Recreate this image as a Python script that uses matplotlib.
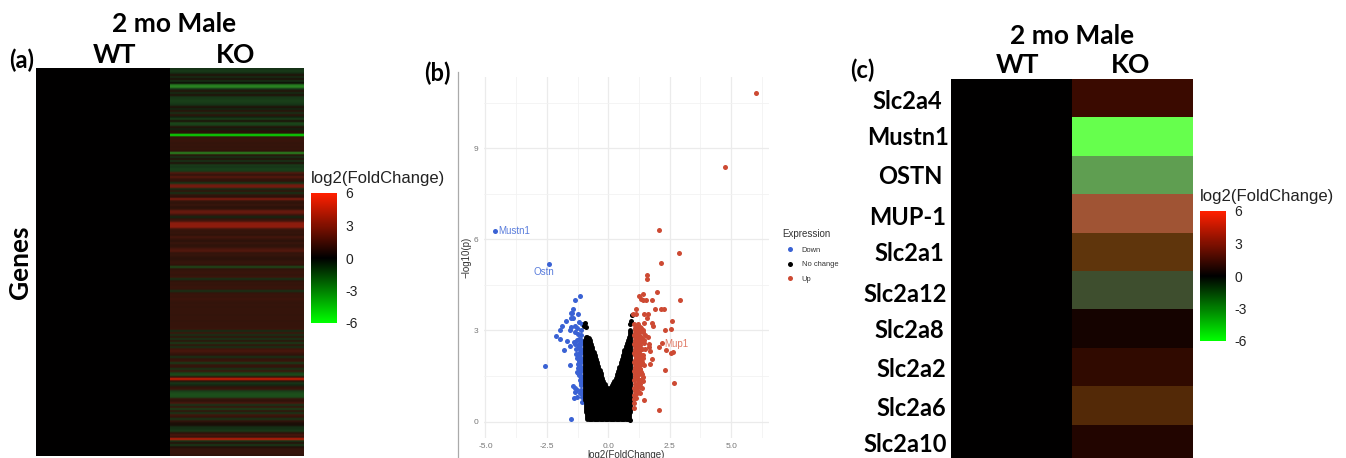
import matplotlib
matplotlib.use("Agg")
import matplotlib.pyplot as plt
import numpy as np
from matplotlib.colors import LinearSegmentedColormap, Normalize
from matplotlib.cm import ScalarMappable
from matplotlib.lines import Line2D

W, H = 1346, 458
TITLE = "2 mo Male"
GROUPS = ["WT", "KO"]
CBAR_TITLE = "log2(FoldChange)"
CBAR_TICKS = [-6, -3, 0, 3, 6]

# Panel (a): log2 fold change per gene row, KO column (WT is all zero)
ko_a = [
    -0.9, -1.1, -0.8, 0.6, -0.8, 0.5, -0.9, 0.05, -2.2, -2.4,
    -0.9, 0.7, -0.8, 0.6, -1.0, -1.1, -1.2, -1.1, -0.9, 0.6,
    -0.7, 0.8, -0.9, 0.9, -0.6, -1.2, 0.5, -1.3, -1.2, 0.7,
    -0.6, 0.7, 0.8, -5.6, 1.0, 1.1, 1.2, 1.0, 1.1, 1.0,
    1.1, 0.9, -2.6, 0.8, -0.9, 0.7, -1.0, 0.6, -1.1, -1.0,
    -1.2, -1.1, 1.8, 1.0, 2.0, 1.1, 0.9, -1.0, 2.7, 2.8,
    -0.8, 1.0, -0.9, 1.0, 0.8, 3.0, 1.1, 0.9, 1.2, 0.8,
    1.0, 2.4, 2.3, 1.2, -0.7, 1.0, 1.5, 3.3, 3.4, 3.4,
    1.4, 1.0, 1.1, 0.9, 1.5, 1.1, 0.8, 1.2, 0.9, 1.0,
    1.6, 1.9, 1.0, 1.1, 0.9, 0.8, 1.0, 1.1, 0.9, -1.4,
    0.9, 1.1, 1.2, 1.0, 1.3, -0.9, 0.9, 1.1, 1.0, 1.2,
    1.1, -0.9, 1.0, 1.2, 1.1, 1.3, 1.1, 1.0, 1.1, 1.0,
    1.1, 1.1, 1.1, 1.0, 1.1, 1.1, 1.0, 1.1, 1.1, 1.1,
    1.2, -0.8, 1.3, -0.9, 1.0, -1.0, 0.9, -1.1, 1.0, -0.9,
    1.3, 1.6, 1.2, 0.9, -0.9, 1.0, 1.2, -1.1, 1.1, 1.0,
    -1.0, 1.3, -1.2, -1.4, 1.0, 5.0, 0.8, -1.0, -0.7, 0.9,
    1.2, -1.1, -1.4, -1.5, -1.4, 1.1, 0.9, 1.6, -1.0, 1.2,
    -1.2, 1.0, -1.0, 1.4, 1.0, -1.0, 1.0, 0.5, 0.4, -0.8,
    -0.9, -1.1, 0.8, 1.6, 1.0, 4.6, -1.0, 0.7, -1.1, 0.6,
    1.0, 1.1, 1.1, 0.9,
]

# Panel (c)
genes_c = ["Slc2a4", "Mustn1", "OSTN", "MUP-1", "Slc2a1", "Slc2a12",
           "Slc2a8", "Slc2a2", "Slc2a6", "Slc2a10"]
ko_c = [1.0, -6.0, -3.2, 3.3, 1.9, -1.4, 0.3, 0.8, 1.6, 0.6]

# Panel (b): volcano
x_ticks = [-5.0, -2.5, 0.0, 2.5, 5.0]
y_ticks = [0, 3, 6, 9]
down_x = [-4.6, -2.4, -1.15, -1.36, -1.44, -1.47, -1.53, -1.22, -1.44, -1.53, -1.71, -1.18,
          -1.87, -1.09, -1.37, -1.52, -1.29, -1.98, -1.56, -1.36, -2.14, -1.95, -1.68, -1.4,
          -1.82, -1.57, -2.58, -1.57, -1.45, -1.38, -1.29, -1.52, -1.34, -1.29,
          -1.1, -1.12, -1.22, -1.12, -1.2, -1.28, -1.1, -1.17, -1.25, -1.35, -1.12, -1.2, -1.3,
          -1.1, -1.18, -1.32, -1.12, -1.2, -1.28, -1.1, -1.17, -1.12, -1.18, -1.24, -1.1, -1.17,
          -1.28, -1.12, -1.2, -1.1, -1.17, -1.12, -1.1, -1.34, -1.1, -1.17, -1.08, -1.08,
          -1.13, -1.2, -1.12, -1.25, -1.13, -1.22, -1.12, -1.2, -1.13, -1.25, -1.12, -1.18]
down_y = [6.27, 5.19, 4.13, 4.0, 3.7, 3.58, 3.56, 3.53, 3.4, 3.4, 3.3, 3.29,
          3.16, 3.22, 3.16, 3.12, 3.08, 3.0, 3.0, 2.96, 2.83, 2.71, 2.65, 2.63,
          2.35, 2.49, 1.82, 1.86, 1.17, 0.77, 0.8, 0.09, 1.1, 1.05,
          3.0, 2.85, 2.87, 2.7, 2.72, 2.68, 2.55, 2.57, 2.53, 2.55, 2.4, 2.42, 2.38,
          2.25, 2.27, 2.23, 2.1, 2.12, 2.08, 1.95, 1.97, 1.8, 1.82, 1.78, 1.65, 1.67,
          1.63, 1.5, 1.52, 1.35, 1.37, 1.2, 1.05, 0.98, 0.95, 0.93, 0.8, 0.65,
          2.62, 2.48, 2.33, 2.18, 2.03, 1.88, 1.73, 1.58, 1.43, 1.6, 1.28, 2.0]
up_x = [6.0, 4.75, 2.05, 2.89, 2.14, 1.57, 1.56, 2.0, 1.41, 1.25, 1.34, 1.53, 1.41, 1.78, 2.93,
        1.13, 1.9, 2.13, 2.25, 1.6, 1.45, 1.13, 1.02, 1.56, 2.6, 1.45, 1.76, 1.8, 2.56, 2.31,
        2.18, 2.08, 2.35, 2.56, 2.65, 1.63, 1.67, 1.64, 1.7, 1.76, 1.71, 2.32, 2.67, 1.47, 2.05,
        1.05, 1.12, 1.22, 1.3, 1.08, 1.2, 1.32, 1.42, 1.05, 1.16, 1.28, 1.5, 1.1, 1.22, 1.35, 1.45,
        1.05, 1.18, 1.3, 1.1, 1.24, 1.38, 1.5, 1.06, 1.18, 1.3, 1.12, 1.25, 1.42, 1.05, 1.18, 1.3,
        1.38, 1.1, 1.24, 1.06, 1.18, 1.32, 1.1, 1.22, 1.4, 1.05, 1.16, 1.28, 1.38, 1.1, 1.22, 1.3,
        1.05, 1.16, 1.08, 1.2, 1.05, 1.14, 1.06, 1.12, 1.05, 1.03,
        1.1, 1.18, 1.26, 1.1, 1.2, 1.1, 1.22, 1.08, 1.16, 1.26, 1.1, 1.2, 1.08, 1.16, 1.26,
        1.1, 1.2, 1.08, 1.16, 1.28, 1.1, 1.2, 1.08, 1.18, 1.3, 1.1, 1.2, 1.08, 1.16,
        1.35, 1.42, 1.3, 1.38, 1.46, 1.33, 1.4, 1.36, 1.45, 1.3, 1.38, 1.34, 1.42, 1.28, 1.36, 1.3]
up_y = [10.81, 8.37, 6.3, 5.54, 5.21, 4.82, 4.68, 4.28, 4.2, 4.13, 4.02, 4.0, 4.0, 4.0, 4.0,
        3.7, 3.7, 3.7, 3.7, 3.53, 3.53, 3.53, 3.53, 3.4, 3.3, 3.23, 3.23, 3.16, 3.05, 3.0,
        2.6, 2.45, 2.36, 2.27, 2.29, 2.77, 2.55, 2.44, 2.32, 2.06, 1.9, 1.71, 1.27, 0.7, 0.39,
        3.2, 3.15, 3.2, 3.12, 3.0, 3.02, 2.98, 3.0, 2.85, 2.87, 2.83, 2.85, 2.7, 2.72, 2.68, 2.7,
        2.55, 2.57, 2.53, 2.4, 2.42, 2.38, 2.4, 2.25, 2.27, 2.23, 2.1, 2.12, 2.08, 1.95, 1.97, 1.93,
        1.95, 1.8, 1.82, 1.65, 1.67, 1.63, 1.5, 1.52, 1.48, 1.38, 1.4, 1.36, 1.38, 1.25, 1.27, 1.23,
        1.12, 1.14, 1.0, 1.02, 0.88, 0.9, 0.75, 0.77, 0.6, 0.45,
        3.08, 3.08, 3.06, 2.93, 2.92, 2.78, 2.78, 2.63, 2.62, 2.62, 2.48, 2.47, 2.33, 2.32, 2.32,
        2.18, 2.18, 2.03, 2.03, 2.02, 1.88, 1.88, 1.73, 1.73, 1.74, 1.58, 1.58, 1.44, 1.44,
        3.08, 2.95, 2.62, 2.75, 2.58, 2.15, 2.2, 1.9, 1.85, 1.72, 1.55, 1.6, 1.32, 1.15, 1.12, 0.95]
# No-change cloud: top and bottom of the dense black mass, read column by column
nc_col_x = [-0.95, -0.9, -0.85, -0.8, -0.75, -0.7, -0.65, -0.6, -0.55, -0.5, -0.45, -0.4, -0.35, -0.3,
            -0.25, -0.2, -0.15, -0.1, -0.05, 0.0, 0.05, 0.1, 0.15, 0.2, 0.25, 0.3, 0.35, 0.4, 0.45, 0.5,
            0.55, 0.6, 0.65, 0.7, 0.75, 0.8, 0.85, 0.9]
nc_col_top = [2.7, 2.8, 2.8, 2.75, 2.7, 2.55, 2.45, 2.3, 2.2, 2.05, 1.95, 1.82, 1.7, 1.6,
              1.45, 1.35, 1.25, 1.15, 1.1, 1.08, 1.1, 1.15, 1.2, 1.28, 1.35, 1.42, 1.55, 1.68, 1.8, 1.95,
              2.05, 2.2, 2.35, 2.5, 2.6, 2.7, 2.8, 3.0]
nc_col_bot = [0.7, 0.3, 0.1, 0.08, 0.07, 0.07, 0.07, 0.07, 0.07, 0.07, 0.07, 0.07, 0.07, 0.07,
              0.07, 0.07, 0.07, 0.07, 0.07, 0.07, 0.07, 0.07, 0.07, 0.07, 0.07, 0.07, 0.07, 0.07, 0.07, 0.07,
              0.07, 0.07, 0.07, 0.07, 0.07, 0.08, 0.1, 0.3]
nc_x = [-1.0, -0.95, -0.9, 0.95, 0.92, 0.9, 0.9]
nc_y = [3.15, 3.25, 3.1, 3.5, 3.3, 3.2, 0.05]

plt.rcParams["font.family"] = ["Liberation Sans", "DejaVu Sans"]
fig = plt.figure(figsize=(W / 100, H / 100), dpi=100, facecolor="white")


def axpx(l, t, r, b):
    return fig.add_axes([l / W, 1 - b / H, (r - l) / W, (b - t) / H])


def tx(x, y, s, **kw):
    kw.setdefault("ha", "center")
    kw.setdefault("va", "center")
    return fig.text(x / W, 1 - y / H, s, **kw)


BOLD = dict(family="Lato", fontweight="bold", color="black")
BIG = 19
base_cmap = LinearSegmentedColormap.from_list("gbr", ["#00ff00", "#000000", "#ff2000"])
norm = Normalize(-6, 6)
a_nodes = [(-6, "#00ff00"), (-2.5, "#2a8a22"), (-1, "#173518"), (0, "#0a0a05"),
           (1, "#32140b"), (3, "#7c1c10"), (6, "#ff2000")]
a_cmap = LinearSegmentedColormap.from_list("stripes", [((v + 6) / 12, c) for v, c in a_nodes])

# ---------- panel a
n_a = len(ko_a)
ax = axpx(36, 68, 304, 456)
ax.imshow(np.zeros((n_a, 1)), aspect="auto", cmap=base_cmap, norm=norm,
          extent=(0, 1, n_a, 0), interpolation="nearest")
ax.imshow(np.array(ko_a).reshape(-1, 1), aspect="auto", cmap=a_cmap, norm=norm,
          extent=(1, 2, n_a, 0), interpolation="bilinear", interpolation_stage="rgba")
ax.set_xlim(0, 2)
ax.set_ylim(n_a, 0)
ax.axis("off")
tx(174, 24, TITLE, fontsize=BIG, **BOLD)
tx(115, 55, GROUPS[0], fontsize=BIG, **BOLD)
tx(236, 55, GROUPS[1], fontsize=BIG, **BOLD)
tx(22, 60, "(a)", fontsize=17, **BOLD)
tx(20, 262, "Genes", fontsize=BIG, rotation=90, **BOLD)


def cbar(l, t, r, b, title_y, pad):
    cax = axpx(l, t, r, b)
    cb = fig.colorbar(ScalarMappable(norm=norm, cmap=base_cmap), cax=cax)
    cb.set_ticks(CBAR_TICKS)
    cb.set_ticklabels([str(v) for v in CBAR_TICKS])
    cb.outline.set_visible(False)
    cax.tick_params(length=0, pad=pad, labelsize=10, labelcolor="#222222")
    tx(l, title_y, CBAR_TITLE, ha="left", fontsize=12, color="#222222")


cbar(311, 193, 337, 323, 178, 6)

# ---------- panel b
X0, X1 = -5.08, 6.54
Y0, Y1 = -0.53, 11.35
ax = axpx(483.5, 76.7, 769, 437.7)
ax.set_xlim(X0, X1)
ax.set_ylim(Y0, Y1)
for s in ax.spines.values():
    s.set_visible(False)
ax.set_xticks(x_ticks)
ax.set_xticklabels(["%.1f" % v for v in x_ticks])
ax.set_yticks(y_ticks)
ax.set_xticks([-3.75, -1.25, 1.25, 3.75, 6.25], minor=True)
ax.set_yticks([1.5, 4.5, 7.5, 10.5], minor=True)
ax.grid(which="major", color="#ebebeb", lw=0.9)
ax.grid(which="minor", color="#f2f2f2", lw=0.6)
ax.set_axisbelow(True)
ax.tick_params(which="both", length=0)
ax.tick_params(labelsize=6, labelcolor="#777777", pad=4)
C_DOWN, C_UP = "#3a62d4", "#cd4a33"
ax.vlines(nc_col_x, nc_col_bot, nc_col_top, color="black", lw=3.5, capstyle="round", zorder=3)
ax.scatter(nc_x, nc_y, s=13, color="black", lw=0, zorder=3)
ax.scatter(down_x, down_y, s=13, color=C_DOWN, lw=0, zorder=2.5)
ax.scatter(up_x, up_y, s=13, color=C_UP, lw=0, zorder=3.5)
ax.text(-4.46, 6.27, "Mustn1", color="#5a7ddc", fontsize=7, va="center")
ax.text(-3.05, 4.92, "Ostn", color="#5a7ddc", fontsize=7, va="center")
ax.text(2.29, 2.56, "Mup1", color="#e07a66", fontsize=7, va="center")
tx(625.7, 455, "log2(FoldChange)", fontsize=7, color="#333333")
tx(467, 257, "\u2212log10(p)", fontsize=7, color="#333333", rotation=90)
tx(437, 73, "(b)", fontsize=17, **BOLD)
fig.add_artist(Line2D([458.3 / W] * 2, [1 - 72 / H, 0], color="#aaaaaa", lw=0.9))
handles = [Line2D([], [], marker="o", ls="", ms=3.6, mew=0, color=c) for c in (C_DOWN, "black", C_UP)]
leg = fig.legend(handles, ["Down", "No change", "Up"], title="Expression", loc="upper left",
                 bbox_to_anchor=(775.5 / W, 1 - 222 / H), frameon=False, fontsize=5.4,
                 title_fontsize=7, labelspacing=1.0, handletextpad=0.6, alignment="left",
                 labelcolor="#333333", borderpad=0.4)
leg.get_title().set_color("#333333")

# ---------- panel c
nodes = [(-6, "#66ff4d"), (-3.2, "#5f9e52"), (-1.4, "#3f4f2f"), (0, "#000000"), (0.3, "#150300"),
         (0.6, "#230600"), (0.8, "#2f0a00"), (1.0, "#3a0a00"), (1.6, "#522807"), (1.9, "#5f350c"),
         (3.3, "#a05535"), (6, "#f52a05")]
c_cmap = LinearSegmentedColormap.from_list("cells", [((v + 6) / 12, c) for v, c in nodes])
ax = axpx(951, 78.7, 1192.7, 462.7)
ax.imshow(np.column_stack([np.zeros(len(ko_c)), ko_c]), aspect="auto", cmap=c_cmap, norm=norm,
          interpolation="nearest")
ax.axis("off")
tx(1071.7, 36, TITLE, fontsize=BIG, **BOLD)
tx(1018, 65, GROUPS[0], fontsize=BIG, **BOLD)
tx(1130.7, 65, GROUPS[1], fontsize=BIG, **BOLD)
tx(862, 70, "(c)", fontsize=17, **BOLD)
label_x = [907.7, 907.7, 910, 907.7, 909, 905, 909.7, 911, 911, 905]
label_y = [101.5, 137.5, 176.5, 217.5, 253.5, 294.5, 330.5, 369.5, 408.5, 444.5]
for g, lx, ly in zip(genes_c, label_x, label_y):
    tx(lx, ly, g, fontsize=17, **BOLD)
cbar(1200, 211, 1226, 341, 196, 6)

fig.savefig("out.png", dpi=100)
